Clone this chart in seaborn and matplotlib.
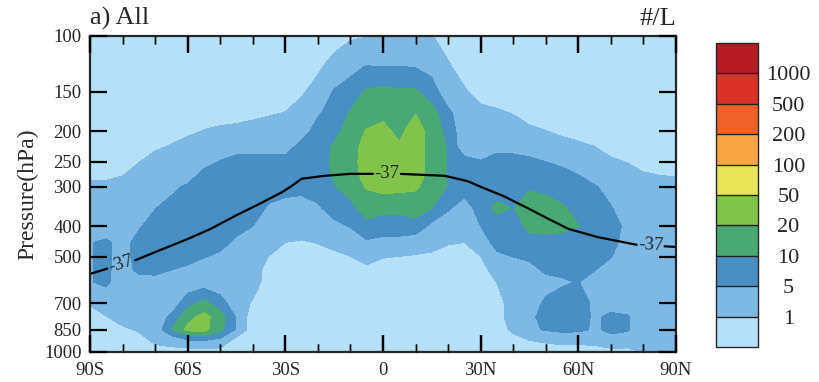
import numpy as np
import matplotlib
matplotlib.use("Agg")
import matplotlib.pyplot as plt
from matplotlib.ticker import FixedLocator, NullLocator
from matplotlib.collections import LineCollection
import seaborn as sns

# Latitude (deg) and pressure (hPa) grid of the zonal-mean field
LATS = list(range(-90, 91, 5))
PRESSURE = [100, 125, 150, 175, 200, 225, 250, 275, 300, 350,
            400, 450, 500, 550, 600, 700, 775, 850, 925, 1000]

# Ice crystal number concentration (#/L); one row per latitude,
# values ordered from 100 hPa down to 1000 hPa
CONC = [
    [0.4, 0.4, 0.4, 0.4, 0.4, 0.4, 0.4, 0.4, 3, 3, 3, 4.8, 4.8, 4.8, 4.8, 1.2, 0.4, 0.4, 0.4, 0.4],   # 90S
    [0.4, 0.4, 0.4, 0.4, 0.4, 0.4, 0.4, 0.4, 3, 3, 3, 5.8, 5.8, 5.8, 5.8, 3, 0.9, 0.4, 0.4, 0.4],     # 85S
    [0.4, 0.4, 0.4, 0.4, 0.4, 0.4, 0.4, 0.9, 3, 3, 3, 3.5, 3.5, 3.5, 3, 3, 3, 0.6, 0.4, 0.4],         # 80S
    [0.4, 0.4, 0.4, 0.4, 0.4, 0.4, 0.9, 3, 3, 3, 4.5, 7, 7, 6, 3.5, 3, 3, 1.3, 0.4, 0.4],             # 75S
    [0.4, 0.4, 0.4, 0.4, 0.4, 0.7, 3, 3, 3, 4.8, 7.5, 7.5, 7.5, 6.5, 3.5, 3, 3, 3, 1.4, 0.4],         # 70S
    [0.4, 0.4, 0.4, 0.4, 0.4, 1.3, 3, 3, 4, 7, 7, 7, 7, 5, 3, 3, 6, 10, 2.5, 0.4],                    # 65S
    [0.4, 0.4, 0.4, 0.4, 0.6, 3, 3, 3, 6, 7, 7, 7, 7, 4, 3, 8, 16, 24, 4, 0.4],                       # 60S
    [0.4, 0.4, 0.4, 0.4, 1.1, 3, 3.5, 7, 7, 7, 7, 7, 5.2, 3, 3.5, 12, 25, 25, 4.5, 0.5],              # 55S
    [0.4, 0.4, 0.4, 0.4, 1.5, 3, 5.3, 7, 7, 7, 7, 7, 4, 3, 3, 7, 14, 12, 3.5, 0.5],                   # 50S
    [0.4, 0.4, 0.4, 0.4, 2, 3.5, 7, 7, 7, 7, 7, 4, 3, 3, 3, 3, 4.6, 4.6, 0.4, 0.4],                   # 45S
    [0.4, 0.4, 0.4, 0.5, 3, 3.5, 7, 7, 7, 7, 5, 3, 3, 3, 2.5, 0.8, 0.4, 0.4, 0.4, 0.4],               # 40S
    [0.4, 0.4, 0.4, 0.8, 3, 3.5, 7, 7, 7, 4.5, 3, 3, 0.9, 0.4, 0.4, 0.4, 0.4, 0.4, 0.4, 0.4],         # 35S
    [0.4, 0.4, 0.4, 1.05, 3, 3.5, 7, 7, 7, 3.5, 3, 1.0, 0.4, 0.4, 0.4, 0.4, 0.4, 0.4, 0.4, 0.4],      # 30S
    [0.4, 0.4, 0.7, 3, 3.5, 7, 7, 7, 7, 3, 3, 0.8, 0.4, 0.4, 0.4, 0.4, 0.4, 0.4, 0.4, 0.4],           # 25S
    [0.4, 0.6, 3, 4.5, 7, 7, 7, 7, 7, 4.5, 3, 1.1, 0.4, 0.4, 0.4, 0.4, 0.4, 0.4, 0.4, 0.4],           # 20S
    [0.3, 3, 5.3, 7, 8, 11, 11.5, 11, 9.5, 7, 4, 2.2, 0.5, 0.4, 0.4, 0.4, 0.4, 0.4, 0.4, 0.4],        # 15S
    [0.8, 4, 7, 10.5, 14, 15, 15, 15, 14, 8, 5.2, 3, 0.95, 0.4, 0.4, 0.4, 0.4, 0.4, 0.4, 0.4],        # 10S
    [0.95, 5.2, 11, 14, 21, 26, 28, 26, 21, 14, 8, 4.5, 2, 0.6, 0.4, 0.4, 0.4, 0.4, 0.4, 0.4],        # 5S
    [2, 5.1, 12, 17, 24, 28, 30, 30, 25, 12, 7, 4, 1.1, 0.4, 0.4, 0.4, 0.4, 0.4, 0.4, 0.4],           # EQ
    [2, 5.1, 11, 13, 17, 22, 30, 30, 24, 12, 7, 4, 0.95, 0.4, 0.4, 0.4, 0.4, 0.4, 0.4, 0.4],          # 5N
    [2, 4.8, 11, 19.5, 28, 28, 28, 28, 22, 13, 8, 3, 0.8, 0.4, 0.4, 0.4, 0.4, 0.4, 0.4, 0.4],         # 10N
    [1.1, 4, 7, 13, 15, 15, 15, 15, 15, 10, 4, 2.5, 0.6, 0.4, 0.4, 0.4, 0.4, 0.4, 0.4, 0.4],          # 15N
    [0.4, 1.3, 3, 6, 8, 9.5, 9.5, 9.5, 9.5, 5.5, 3, 1.2, 0.4, 0.4, 0.4, 0.4, 0.4, 0.4, 0.4, 0.4],     # 20N
    [0.4, 0.4, 1.3, 3, 3, 3, 7, 7, 7, 3.5, 3, 1.0, 0.4, 0.4, 0.4, 0.4, 0.4, 0.4, 0.4, 0.4],           # 25N
    [0.4, 0.4, 0.4, 2, 3, 3, 5.3, 7, 7, 7, 5, 3, 0.95, 0.4, 0.4, 0.4, 0.4, 0.4, 0.4, 0.4],            # 30N
    [0.4, 0.4, 0.4, 1.3, 3, 4, 7, 7, 7, 12, 7, 7, 4, 3, 1.05, 0.4, 0.4, 0.4, 0.4, 0.4],               # 35N
    [0.4, 0.4, 0.4, 0.9, 3, 3.8, 7, 7, 7, 9.7, 7, 7, 5, 3, 3, 3, 3, 1.5, 0.4, 0.4],                   # 40N
    [0.4, 0.4, 0.4, 0.4, 1.6, 3.5, 6, 7, 9, 16, 12, 7.5, 6, 3.5, 3, 3, 4, 4, 0.9, 0.4],               # 45N
    [0.4, 0.4, 0.4, 0.4, 1.05, 3, 5, 7, 7.5, 16, 13, 7.5, 7, 6, 3.5, 6, 7, 5.5, 1.2, 0.4],            # 50N
    [0.4, 0.4, 0.4, 0.4, 0.6, 3, 4, 7, 7, 11, 12, 7.5, 7, 6, 4.5, 7, 7.5, 7, 1.5, 0.4],               # 55N
    [0.4, 0.4, 0.4, 0.4, 0.4, 1.8, 3, 5, 7, 8, 10.2, 7, 7, 6.5, 5.2, 7, 7.5, 6.5, 1.5, 0.4],          # 60N
    [0.4, 0.4, 0.4, 0.4, 0.4, 1.05, 3, 3, 5.5, 7, 7, 7, 7, 5.2, 3, 4.3, 4.3, 4.3, 1.5, 0.5],          # 65N
    [0.4, 0.4, 0.4, 0.4, 0.4, 0.4, 1.6, 3, 3.5, 5.3, 6, 6, 5.2, 3, 3, 3.5, 6, 6, 3.5, 0.5],           # 70N
    [0.4, 0.4, 0.4, 0.4, 0.4, 0.4, 0.9, 3, 3, 3, 4.5, 4, 3, 3, 3, 3, 5.5, 5.5, 3, 0.5],               # 75N
    [0.4, 0.4, 0.4, 0.4, 0.4, 0.4, 0.4, 1.3, 3, 3, 3, 3, 3, 3, 3, 3, 3, 3, 3, 1.1],                   # 80N
    [0.4, 0.4, 0.4, 0.4, 0.4, 0.4, 0.4, 0.95, 3, 3, 3, 3, 3, 3, 3, 3, 3, 3, 3, 2],                    # 85N
    [0.4, 0.4, 0.4, 0.4, 0.4, 0.4, 0.4, 0.8, 3, 3, 3, 3, 3, 3, 3, 3, 3, 3, 3, 2],                     # 90N
]

# Contour levels (#/L) and fill colours, lowest class first
LEVELS = [1, 5, 10, 20, 50, 100, 200, 500, 1000]
COLORS = ["#b4e1f8", "#7db9e4", "#4a8fc3", "#4aa874", "#80c44c",
          "#e8e458", "#f5a541", "#ee622a", "#db3129", "#b41b23"]

# -37 degC isotherm (latitude, pressure)
ISO_T = -37
ISO_LAT = [-90, -85, -76, -70, -60, -53, -45, -38, -31, -28, -25, -18, -10,
           -3, 5, 19, 26, 30, 37, 45, 51, 57, 66, 78, 90]
ISO_P = [566, 546, 512, 483, 439, 408, 369, 340, 312, 298, 283, 277, 273,
         273, 273, 277, 288, 300, 321, 353, 380, 408, 433, 458, 465]
ISO_LABEL_LATS = [-80.4, 1.2, 82.2]

XTICKS = [-90, -60, -30, 0, 30, 60, 90]
XMINOR = [-80, -70, -50, -40, -20, -10, 10, 20, 40, 50, 70, 80]
XTICK_LABELS = ["90S", "60S", "30S", "0", "30N", "60N", "90N"]
YTICKS = [100, 150, 200, 250, 300, 400, 500, 700, 850, 1000]

sns.set_style("ticks")
plt.rcParams["font.family"] = ["Liberation Serif", "DejaVu Serif"]
plt.rcParams["axes.linewidth"] = 1.6

fig = plt.figure(figsize=(8.2, 3.82), dpi=100)
ax = fig.add_axes([90 / 820, 1 - 352 / 382, 586 / 820, 316 / 382])
cax = fig.add_axes([716 / 820, 1 - 347 / 382, 42 / 820, 304 / 382])

# Filled contours, interpolated in log space of the concentration
conc = np.asarray(CONC, dtype=float).T
bounds = np.log10([1e-2] + LEVELS + [1e5])
cs = ax.contourf(LATS, PRESSURE, np.log10(conc), levels=bounds, colors=COLORS,
                 zorder=0)
ax.set_yscale("log")

# Isotherm, broken where its inline labels sit
gap = 4.3
log_iso = np.log10(ISO_P)
edges = [-90.0]
for c in ISO_LABEL_LATS:
    edges += [c - gap, c + gap]
edges.append(90.0)
for a, b in zip(edges[0::2], edges[1::2]):
    inner = [v for v in ISO_LAT if a < v < b]
    xs = [a] + inner + [b]
    ps = list(10 ** np.interp(xs, ISO_LAT, log_iso))
    sns.lineplot(x=xs, y=ps, ax=ax, color="black", lw=1.6, sort=False,
                 estimator=None, legend=False)

ax.set_ylim(1000, 100)
ax.set_xlim(-90, 90)
ax.set_xlabel("")

for c in ISO_LABEL_LATS:
    pc = 10 ** np.interp(c, ISO_LAT, log_iso)
    p0 = 10 ** np.interp(c - gap, ISO_LAT, log_iso)
    p1 = 10 ** np.interp(c + gap, ISO_LAT, log_iso)
    d0 = ax.transData.transform((c - gap, p0))
    d1 = ax.transData.transform((c + gap, p1))
    ang = np.degrees(np.arctan2(d1[1] - d0[1], d1[0] - d0[0]))
    ax.text(c, pc, f"{ISO_T}", ha="center", va="center", fontsize=13.5,
            rotation=ang, rotation_mode="anchor")

ax.set_ylabel("Pressure(hPa)", fontsize=17, labelpad=4)
ax.set_title("a) All", loc="left", fontsize=19, pad=8)
ax.set_title("#/L", loc="right", fontsize=19, pad=8)

# Colour bar with one equal box per class
cb = fig.colorbar(cs, cax=cax, spacing="uniform", ticks=np.log10(LEVELS),
                  drawedges=True)
cb.set_ticklabels([str(v) for v in LEVELS])
cb.outline.set_linewidth(1.0)
cb.dividers.set_linewidth(1.0)
cb.dividers.set_color("#222222")
cax.tick_params(length=0, labelsize=16, pad=22)
for lbl in cax.get_yticklabels():
    lbl.set_horizontalalignment("center")

# Axes decoration: inward ticks on all four sides
ax.xaxis.set_major_locator(FixedLocator(XTICKS))
ax.xaxis.set_minor_locator(FixedLocator(XMINOR))
ax.set_xticklabels(XTICK_LABELS)
ax.yaxis.set_major_locator(FixedLocator(YTICKS))
ax.yaxis.set_minor_locator(NullLocator())
ax.set_yticklabels([str(v) for v in YTICKS])
ax.xaxis.set_ticks_position("both")
ax.yaxis.set_ticks_position("both")
ax.tick_params(axis="both", which="major", direction="in", length=12,
               width=1.6, labelsize=13.5, color="black", pad=6)
ax.tick_params(axis="x", which="minor", direction="in", length=6,
               width=1.0, color="black")
ax.tick_params(axis="x", which="major", pad=7)
ax.xaxis.set_zorder(5)
ax.yaxis.set_zorder(5)
for s in ax.spines.values():
    s.set_visible(True)

# Latitude tick marks along the top and bottom frame, drawn above the axes
xform = ax.get_xaxis_transform()
major_len = 12 * 100 / 72 / 316
minor_len = 6 * 100 / 72 / 316
for ticks, lw, ln in [(XTICKS, 1.6, major_len), (XMINOR, 1.0, minor_len)]:
    segs = [[(t, 0), (t, ln)] for t in ticks] + [[(t, 1 - ln), (t, 1)] for t in ticks]
    fig.add_artist(LineCollection(segs, colors="black", linewidths=lw,
                                  transform=xform, zorder=5))

fig.savefig("out.png", dpi=100)
